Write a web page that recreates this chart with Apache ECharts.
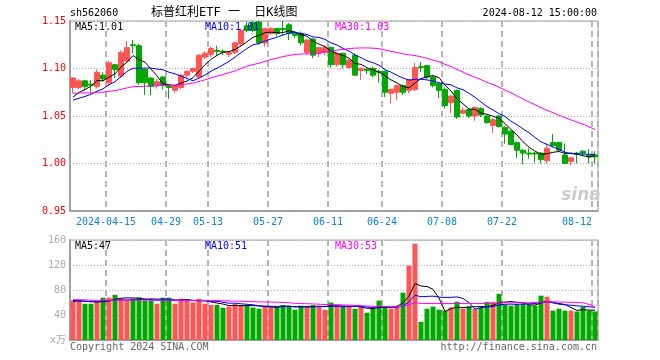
<!DOCTYPE html>
<html><head><meta charset="utf-8">
<script src="https://cdn.jsdelivr.net/npm/echarts/dist/echarts.min.js"></script>
<style>html,body{margin:0;padding:0;background:#fff}#c{width:660px;height:360px}</style>
</head><body><div id="c"></div>
<script>
const dates = ['2024-04-03','2024-04-08','2024-04-09','2024-04-10','2024-04-11','2024-04-12','2024-04-15','2024-04-16','2024-04-17','2024-04-18','2024-04-19','2024-04-22','2024-04-23','2024-04-24','2024-04-25','2024-04-26','2024-04-29','2024-04-30','2024-05-06','2024-05-07','2024-05-08','2024-05-09','2024-05-10','2024-05-13','2024-05-14','2024-05-15','2024-05-16','2024-05-17','2024-05-20','2024-05-21','2024-05-22','2024-05-23','2024-05-24','2024-05-27','2024-05-28','2024-05-29','2024-05-30','2024-05-31','2024-06-03','2024-06-04','2024-06-05','2024-06-06','2024-06-07','2024-06-11','2024-06-12','2024-06-13','2024-06-14','2024-06-17','2024-06-18','2024-06-19','2024-06-20','2024-06-21','2024-06-24','2024-06-25','2024-06-26','2024-06-27','2024-06-28','2024-07-01','2024-07-02','2024-07-03','2024-07-04','2024-07-05','2024-07-08','2024-07-09','2024-07-10','2024-07-11','2024-07-12','2024-07-15','2024-07-16','2024-07-17','2024-07-18','2024-07-19','2024-07-22','2024-07-23','2024-07-24','2024-07-25','2024-07-26','2024-07-29','2024-07-30','2024-07-31','2024-08-01','2024-08-02','2024-08-05','2024-08-06','2024-08-07','2024-08-08','2024-08-09','2024-08-12'];
const opens = [1.080,1.080,1.087,1.0835,1.081,1.093,1.085,1.104,1.092,1.108,
1.125,1.124,1.099,1.090,1.082,1.091,1.081,1.077,1.080,1.093,
1.097,1.091,1.112,1.115,1.119,1.118,1.115,1.117,1.126,1.145,
1.148,1.149,1.127,1.137,1.142,1.142,1.146,1.137,1.137,1.117,
1.131,1.116,1.117,1.122,1.104,1.116,1.101,1.114,1.098,1.099,
1.100,1.097,1.097,1.074,1.075,1.082,1.077,1.078,1.102,1.103,
1.091,1.084,1.078,1.064,1.077,1.053,1.057,1.050,1.058,1.050,
1.040,1.050,1.038,1.034,1.022,1.014,1.011,1.011,1.011,1.003,
1.022,1.022,1.009,1.002,1.011,1.013,1.009,1.009];
const closes = [1.090,1.087,1.081,1.0825,1.096,1.089,1.106,1.099,1.117,1.122,
1.124,1.085,1.085,1.081,1.086,1.082,1.080,1.082,1.093,1.097,
1.100,1.114,1.116,1.121,1.118,1.117,1.117,1.127,1.140,1.140,
1.140,1.127,1.142,1.142,1.137,1.141,1.137,1.135,1.127,1.130,
1.114,1.122,1.122,1.104,1.116,1.104,1.109,1.093,1.100,1.098,
1.093,1.096,1.075,1.078,1.082,1.075,1.088,1.101,1.101,1.091,
1.082,1.077,1.061,1.071,1.049,1.056,1.050,1.059,1.051,1.043,
1.046,1.039,1.031,1.020,1.014,1.011,1.010,1.010,1.004,1.016,
1.019,1.014,1.000,1.006,1.010,1.011,1.007,1.007];
const lows = [1.074,1.078,1.077,1.075,1.079,1.086,1.082,1.090,1.090,1.106,
1.116,1.083,1.072,1.072,1.079,1.078,1.068,1.074,1.078,1.090,
1.095,1.089,1.110,1.112,1.114,1.114,1.112,1.115,1.124,1.138,
1.138,1.125,1.123,1.135,1.134,1.135,1.130,1.132,1.124,1.115,
1.111,1.112,1.114,1.101,1.102,1.100,1.100,1.092,1.088,1.094,
1.091,1.085,1.070,1.063,1.067,1.072,1.074,1.076,1.096,1.089,
1.080,1.069,1.058,1.053,1.047,1.052,1.048,1.045,1.049,1.042,
1.032,1.038,1.021,1.019,1.006,0.999,1.005,1.001,1.000,1.000,
1.017,1.013,0.9995,0.998,1.000,1.009,1.000,1.000];
const highs = [1.091,1.089,1.088,1.088,1.099,1.096,1.108,1.105,1.119,1.129,
1.130,1.126,1.100,1.091,1.089,1.092,1.083,1.083,1.094,1.098,
1.101,1.115,1.118,1.123,1.124,1.120,1.118,1.128,1.142,1.149,
1.150,1.150,1.143,1.144,1.143,1.150,1.148,1.139,1.139,1.131,
1.132,1.123,1.124,1.123,1.117,1.117,1.110,1.116,1.101,1.101,
1.102,1.099,1.098,1.079,1.083,1.083,1.089,1.106,1.107,1.104,
1.092,1.085,1.080,1.072,1.078,1.059,1.058,1.060,1.059,1.051,
1.048,1.051,1.039,1.035,1.023,1.015,1.016,1.012,1.012,1.021,
1.031,1.023,1.021,1.007,1.012,1.014,1.015,1.013];
const volumes = [63.4,63,58,58,60.8,67.7,67.7,72,66,64,
66,67.7,63,63,58,67.7,67.7,58,66,64,
60,66,58,56,56,51.7,53.5,58,56,56,
52,50,53.5,53.5,53.5,56,53.5,48.5,55,53.5,
56,55,48.5,60,54,53.5,53.5,50,53.5,43.7,
50,63,53.5,50,54,75.7,119,154,29,50,
53.5,48.5,46.9,52,61.3,50,53.5,50,52,61,
61,74,56,55,56,58,56,55,71,69,
47,50,47,47,45.6,53,47,45.6];
// estimated closes / volumes before the visible window (only used to warm up the moving averages)
const preCloses = [1.074,1.078,1.081,1.079,1.083,1.080,1.077,1.075,1.079,1.082,1.080,1.078,1.076,1.074,1.077,1.079,1.076,1.073,1.075,1.071,1.066,1.062,1.060,1.063,1.065,1.063,1.066,1.064,1.067];
const preVolumes = [68,64,70,66,62,67,71,65,63,66,69,64,62,67,66,64,68,65,63,67,59,62,58,61,61,62,65,63,63.6];
const markDates = ['2024-04-15','2024-04-29','2024-05-13','2024-05-27','2024-06-11','2024-06-24','2024-07-08','2024-07-22','2024-08-12'];
const priceMaLabels = ['MA5:1.01','MA10:1.01','MA30:1.03'];
const volMaLabels = ['MA5:47','MA10:51','MA30:53'];
const titleText = '标普红利ETF 一  日K线图';
const codeText = 'sh562060';
const timeText = '2024-08-12 15:00:00';

const RED = '#ff5555', GREEN = '#00a800';
const MA_COLORS = ['#000000', '#0000ff', '#ff00ff'];
const MONO = '"DejaVu Sans Mono","Noto Sans CJK SC",monospace';

const markIdx = markDates.map(d => dates.indexOf(d));
const lastIdx = dates.length - 1;
const candle = dates.map((d, i) => [opens[i], closes[i], lows[i], highs[i]]);
function ma(pre, vals, n) {
  const all = pre.concat(vals), off = pre.length;
  return vals.map((_, i) => { let s = 0; for (let k = 0; k < n; k++) s += all[off + i - k]; return +(s / n).toFixed(5); });
}
const pMA = [5, 10, 30].map(n => ma(preCloses, closes, n));
const vMA = [5, 10, 30].map(n => ma(preVolumes, volumes, n));
const volData = volumes.map((v, i) => ({ value: v, itemStyle: { color: closes[i] >= opens[i] ? RED : GREEN } }));

const chart = echarts.init(document.getElementById('c'), null, { renderer: 'canvas', width: 660, height: 360 });
const frame = '#a0a0a0';
const hDot = { show: true, lineStyle: { color: '#aaaaaa', type: [1, 2], width: 1 } };
const vDash = { show: true, interval: (i) => markIdx.includes(i), lineStyle: { color: '#b4b4b4', type: [6, 4], width: 2 } };

const lineSeries = (data, color, xi) => ({
  type: 'line', data, xAxisIndex: xi, yAxisIndex: xi, showSymbol: false, symbol: 'none',
  smooth: false, silent: true, lineStyle: { color, width: 1 }, z: 5
});

function txt(x, y, text, fill, align, font) {
  return { type: 'text', x, y, silent: true, z: 100,
    style: { text, fill, font: font || ('10px ' + MONO), textAlign: align || 'left', textVerticalAlign: 'middle' } };
}

chart.setOption({
  animation: false,
  backgroundColor: '#fff',
  grid: [
    { left: 70, top: 21, width: 528, height: 190, show: true, borderColor: frame, borderWidth: 1, backgroundColor: 'transparent' },
    { left: 70, top: 240, width: 528, height: 100, show: true, borderColor: frame, borderWidth: 1, backgroundColor: 'transparent' }
  ],
  xAxis: [
    { type: 'category', gridIndex: 0, data: dates, boundaryGap: true,
      axisLine: { show: true, lineStyle: { color: frame, width: 2 } }, axisTick: { show: false },
      splitLine: vDash,
      axisLabel: { interval: (i) => markIdx.includes(i), margin: 6, color: '#0a84d6', fontFamily: MONO, fontSize: 10,
        formatter: (v, i) => {
          const s = (i === markIdx[0]) ? v : v.slice(5);
          return i === lastIdx ? '{r|' + s + '}' : '{c|' + s + '}';
        },
        rich: { c: { padding: [0, 6, 0, 0], color: '#0a84d6', fontFamily: MONO, fontSize: 10 },
                r: { padding: [0, 36, 0, 0], color: '#0a84d6', fontFamily: MONO, fontSize: 10 } } } },
    { type: 'category', gridIndex: 1, data: dates, boundaryGap: true,
      axisLine: { show: true, lineStyle: { color: frame, width: 2 } }, axisTick: { show: false },
      axisLabel: { show: false }, splitLine: vDash }
  ],
  yAxis: [
    { type: 'value', gridIndex: 0, min: 0.95, max: 1.15, interval: 0.05, scale: true,
      axisLine: { show: true, lineStyle: { color: frame, width: 2 } }, axisTick: { show: false },
      axisLabel: { color: '#ff0000', fontFamily: MONO, fontSize: 10, margin: 4, formatter: v => v.toFixed(2) },
      splitLine: hDot },
    { type: 'value', gridIndex: 1, min: 0, max: 160, interval: 40,
      axisLine: { show: true, lineStyle: { color: frame, width: 2 } }, axisTick: { show: false },
      axisLabel: { color: '#aaaaaa', fontFamily: MONO, fontSize: 10, margin: 4, formatter: v => v === 0 ? 'x万' : String(v) },
      splitLine: hDot }
  ],
  series: [
    { type: 'candlestick', xAxisIndex: 0, yAxisIndex: 0, data: candle, barWidth: 5, silent: true,
      itemStyle: { color: RED, color0: GREEN, borderColor: RED, borderColor0: GREEN, borderWidth: 1 } },
    lineSeries(pMA[0], MA_COLORS[0], 0), lineSeries(pMA[1], MA_COLORS[1], 0), lineSeries(pMA[2], MA_COLORS[2], 0),
    { type: 'bar', xAxisIndex: 1, yAxisIndex: 1, data: volData, barWidth: 5, silent: true },
    lineSeries(vMA[0], MA_COLORS[0], 1), lineSeries(vMA[1], MA_COLORS[1], 1), lineSeries(vMA[2], MA_COLORS[2], 1)
  ],
  graphic: [
    txt(70, 13, codeText, '#000'),
    txt(151, 13, titleText, '#000', 'left', '12px ' + MONO),
    txt(597, 13, timeText, '#000', 'right'),
    txt(75, 27, priceMaLabels[0], MA_COLORS[0]),
    txt(205, 27, priceMaLabels[1], MA_COLORS[1]),
    txt(335, 27, priceMaLabels[2], MA_COLORS[2]),
    txt(75, 246, volMaLabels[0], MA_COLORS[0]),
    txt(205, 246, volMaLabels[1], MA_COLORS[1]),
    txt(335, 246, volMaLabels[2], MA_COLORS[2]),
    txt(70, 347, 'Copyright 2024 SINA.COM', '#666'),
    txt(597, 347, 'http://finance.sina.com.cn', '#666', 'right'),
    txt(581, 196, 'sina', '#cccccc', 'center', 'italic bold 17px "DejaVu Sans",sans-serif')
  ]
});
</script>
</body></html>
